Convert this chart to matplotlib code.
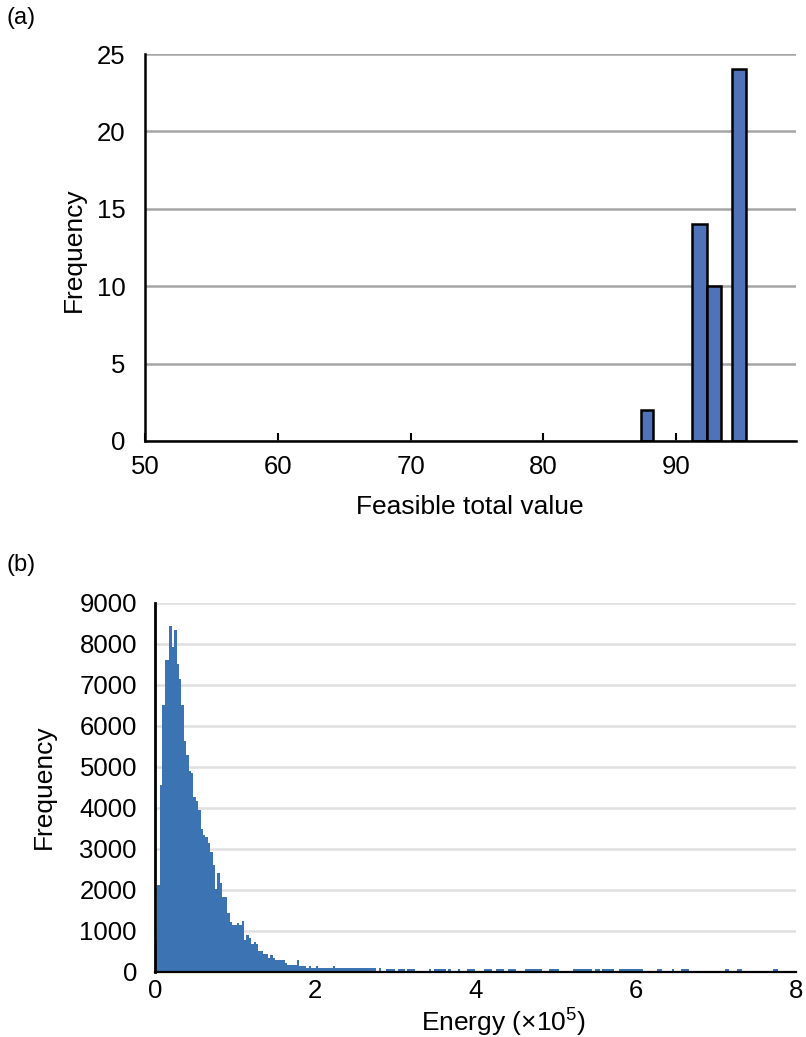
import numpy as np
import matplotlib
matplotlib.use("Agg")
import matplotlib.pyplot as plt

plt.rcParams['font.family'] = ['Liberation Sans', 'DejaVu Sans']
plt.rcParams['mathtext.fontset'] = 'custom'
plt.rcParams['mathtext.rm'] = 'Liberation Sans'

# ---------- Panel (a) data ----------
feasible_values = [87.8, 91.75, 92.85, 94.75]
feasible_freq = [2, 14, 10, 24]
feasible_widths = [0.9, 1.1, 1.1, 1.1]
a_xticks = [50, 60, 70, 80, 90]
a_yticks = [0, 5, 10, 15, 20, 25]

# ---------- Panel (b) data (energy in units of 1e5, bin width 0.03) ----------
bin_width = 0.03
n_bins = 267
main_counts = [
    780, 2110, 4560, 6500, 7620, 7620, 8440, 7930, 8330, 7520,
    7150, 6500, 5620, 5280, 4900, 4860, 4250, 4170, 3950, 3480,
    3330, 3280, 3150, 2920, 2600, 2010, 2410, 2150, 1820, 1820,
    1440, 1210, 1140, 1140, 1180, 1140, 1230, 780, 880, 820,
    680, 730, 680, 510, 510, 430, 430, 330, 410, 330,
    270, 270, 270, 270, 210, 170, 170, 170, 170, 270,
    140, 140, 140, 75, 140, 75, 75, 140, 75, 75,
    75, 75, 75, 75, 140, 75, 75, 75, 75, 75,
    75, 75, 75, 75, 75, 75, 75, 75, 75, 75,
    75, 75, 0, 75,
]
tail_bins = [96, 97, 98, 99, 101, 102, 103, 105, 106, 107,
             114, 116, 117, 118, 119, 120, 122, 126, 130, 131,
             132, 137, 138, 139, 142, 143, 144, 147, 148, 149,
             154, 155, 156, 157, 158, 159, 160, 164, 165, 166,
             167, 174, 175, 176, 177, 178, 179, 180, 181, 183,
             184, 186, 187, 188, 189, 190, 193, 194, 195, 196,
             197, 198, 199, 200, 201, 202, 209, 210, 215, 219,
             220, 221, 237, 238, 242, 243, 257, 258]
tail_counts = [70] * len(tail_bins)
b_xticks = [0, 2, 4, 6, 8]
b_yticks = list(range(0, 9001, 1000))

counts = np.zeros(n_bins)
counts[:len(main_counts)] = main_counts
counts[tail_bins] = tail_counts
edges = np.arange(n_bins + 1) * bin_width

W, H = 806, 1037
fig = plt.figure(figsize=(W / 100, H / 100), dpi=100)

TICK_FS = 18.5
LABEL_FS = 19

# ---------- Panel (a) ----------
ax1 = fig.add_axes([145 / W, 1 - 441 / H, (795.5 - 145) / W, (441 - 54) / H])
ax1.bar(feasible_values, feasible_freq, width=feasible_widths,
        color='#4F72B8', edgecolor='black', linewidth=1.8, zorder=3)
ax1.set_xlim(50, 99)
ax1.set_ylim(0, 25)
ax1.set_xticks(a_xticks)
ax1.set_yticks(a_yticks)
ax1.grid(axis='y', color='#A6A6A6', linewidth=1.8, zorder=0)
ax1.set_axisbelow(True)
for s in ['top', 'right']:
    ax1.spines[s].set_visible(False)
for s in ['left', 'bottom']:
    ax1.spines[s].set_linewidth(1.8)
    ax1.spines[s].set_zorder(4)
ax1.tick_params(axis='x', direction='in', length=6, width=1.5, pad=10,
                labelsize=TICK_FS)
ax1.tick_params(axis='y', length=0, pad=14, labelsize=TICK_FS)
ax1.set_xlabel('Feasible total value', fontsize=LABEL_FS)
ax1.set_ylabel('Frequency', fontsize=LABEL_FS)
ax1.xaxis.set_label_coords((470 - 145) / 650.5, (441 - 507) / 387)
ax1.xaxis.label.set_va('center')
ax1.yaxis.set_label_coords((74 - 145) / 650.5, (441 - 250) / 387)
ax1.yaxis.label.set_va('center')

# ---------- Panel (b) ----------
ax2 = fig.add_axes([155 / W, 1 - 971.5 / H, (796 - 155) / W, (971.5 - 603) / H])
ax2.stairs(counts, edges, fill=True, color='#3C73B2', zorder=3)
ax2.set_xlim(0, 8)
ax2.set_ylim(0, 9000)
ax2.set_xticks(b_xticks)
ax2.set_yticks(b_yticks)
ax2.grid(axis='y', color='#E0E0E0', linewidth=1.8, zorder=0)
ax2.set_axisbelow(True)
for s in ['top', 'right']:
    ax2.spines[s].set_visible(False)
ax2.spines['left'].set_linewidth(2.0)
ax2.spines['bottom'].set_linewidth(1.6)
for s in ['left', 'bottom']:
    ax2.spines[s].set_zorder(4)
ax2.tick_params(axis='x', length=0, pad=5.5, labelsize=TICK_FS)
ax2.tick_params(axis='y', length=0, pad=13, labelsize=TICK_FS)
ax2.set_xlabel('Energy (×10$^{5}$)', fontsize=LABEL_FS)
ax2.set_ylabel('Frequency', fontsize=LABEL_FS)
ax2.xaxis.set_label_coords((503 - 155) / 641, (971.5 - 1022) / 368.5)
ax2.xaxis.label.set_va('center')
ax2.yaxis.set_label_coords((44 - 155) / 641, (971.5 - 787) / 368.5)
ax2.yaxis.label.set_va('center')

# Panel labels
fig.text(6 / W, 1 - 18 / H, '(a)', fontsize=17, ha='left', va='center')
fig.text(6 / W, 1 - 565 / H, '(b)', fontsize=17, ha='left', va='center')

fig.savefig('out.png', dpi=100)
